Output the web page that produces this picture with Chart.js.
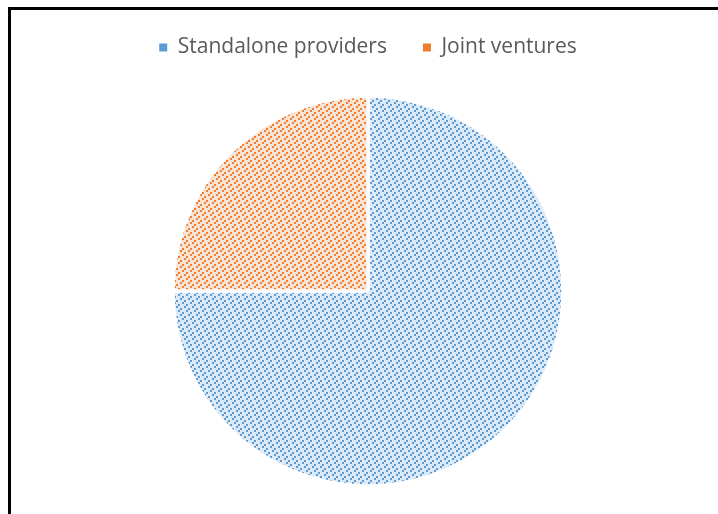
<!DOCTYPE html>
<html>
<head>
<meta charset="utf-8">
<script src="https://cdn.jsdelivr.net/npm/chart.js@4"></script>
<style>
  html, body { margin: 0; padding: 0; background: #fff; }
  #wrap { position: relative; width: 718px; height: 514px; overflow: hidden; }
  #frame { position: absolute; left: 8px; top: 7px; width: 800px; height: 600px;
           border-top: 3px solid #000; border-left: 3px solid #000; }
  canvas { position: absolute; left: 0; top: 0; }
</style>
</head>
<body>
<div id="wrap">
  <div id="frame"></div>
  <canvas id="pieChart" width="718" height="514"></canvas>
</div>
<script>
// datos del gráfico
var categorias = ['Standalone providers', 'Joint ventures'];
var valores = [75, 25];
var coloresFrente = ['#5B9BD5', '#ED7D31'];
var coloresFondo = ['#DCE9F6', '#FBE3D3'];

// patrón de rayas discontinuas en diagonal (celdas de 2px, tesela 8x16)
var celdasPatron = [[0, 1], [1, 0], [1, 3], [2, 2], [2, 5], [3, 4], [3, 7], [0, 6]];

function crearPatron(frente, fondo) {
    var c = document.createElement('canvas');
    c.width = 8;
    c.height = 16;
    var g = c.getContext('2d');
    g.fillStyle = fondo;
    g.fillRect(0, 0, 8, 16);
    g.fillStyle = frente;
    celdasPatron.forEach(function(p) {
        g.fillRect(p[0] * 2, p[1] * 2, 2, 2);
    });
    return g.createPattern(c, 'repeat');
}

var ctx = document.getElementById('pieChart').getContext('2d');
var patrones = [];
for (var i = 0; i < valores.length; i++) {
    patrones.push(crearPatron(coloresFrente[i], coloresFondo[i]));
}

var pieChart = new Chart(ctx, {
    type: 'pie',
    data: {
        labels: categorias,
        datasets: [{
            data: valores,
            backgroundColor: patrones,
            borderColor: '#ffffff',
            borderWidth: 3.5,
            radius: 195
        }]
    },
    options: {
        responsive: false,
        animation: false,
        layout: {
            padding: { top: 1, bottom: -7, left: 18, right: 0 }
        },
        plugins: {
            tooltip: { enabled: false },
            legend: {
                position: 'top',
                labels: {
                    boxWidth: 8,
                    boxHeight: 8,
                    padding: 36,
                    color: '#595959',
                    font: { family: 'Open Sans', size: 21 },
                    generateLabels: function(chart) {
                        return categorias.map(function(txt, i) {
                            return {
                                text: txt,
                                fillStyle: coloresFrente[i],
                                strokeStyle: coloresFrente[i],
                                lineWidth: 0,
                                fontColor: '#595959',
                                hidden: false,
                                index: i
                            };
                        });
                    }
                }
            }
        }
    }
});
</script>
</body>
</html>
